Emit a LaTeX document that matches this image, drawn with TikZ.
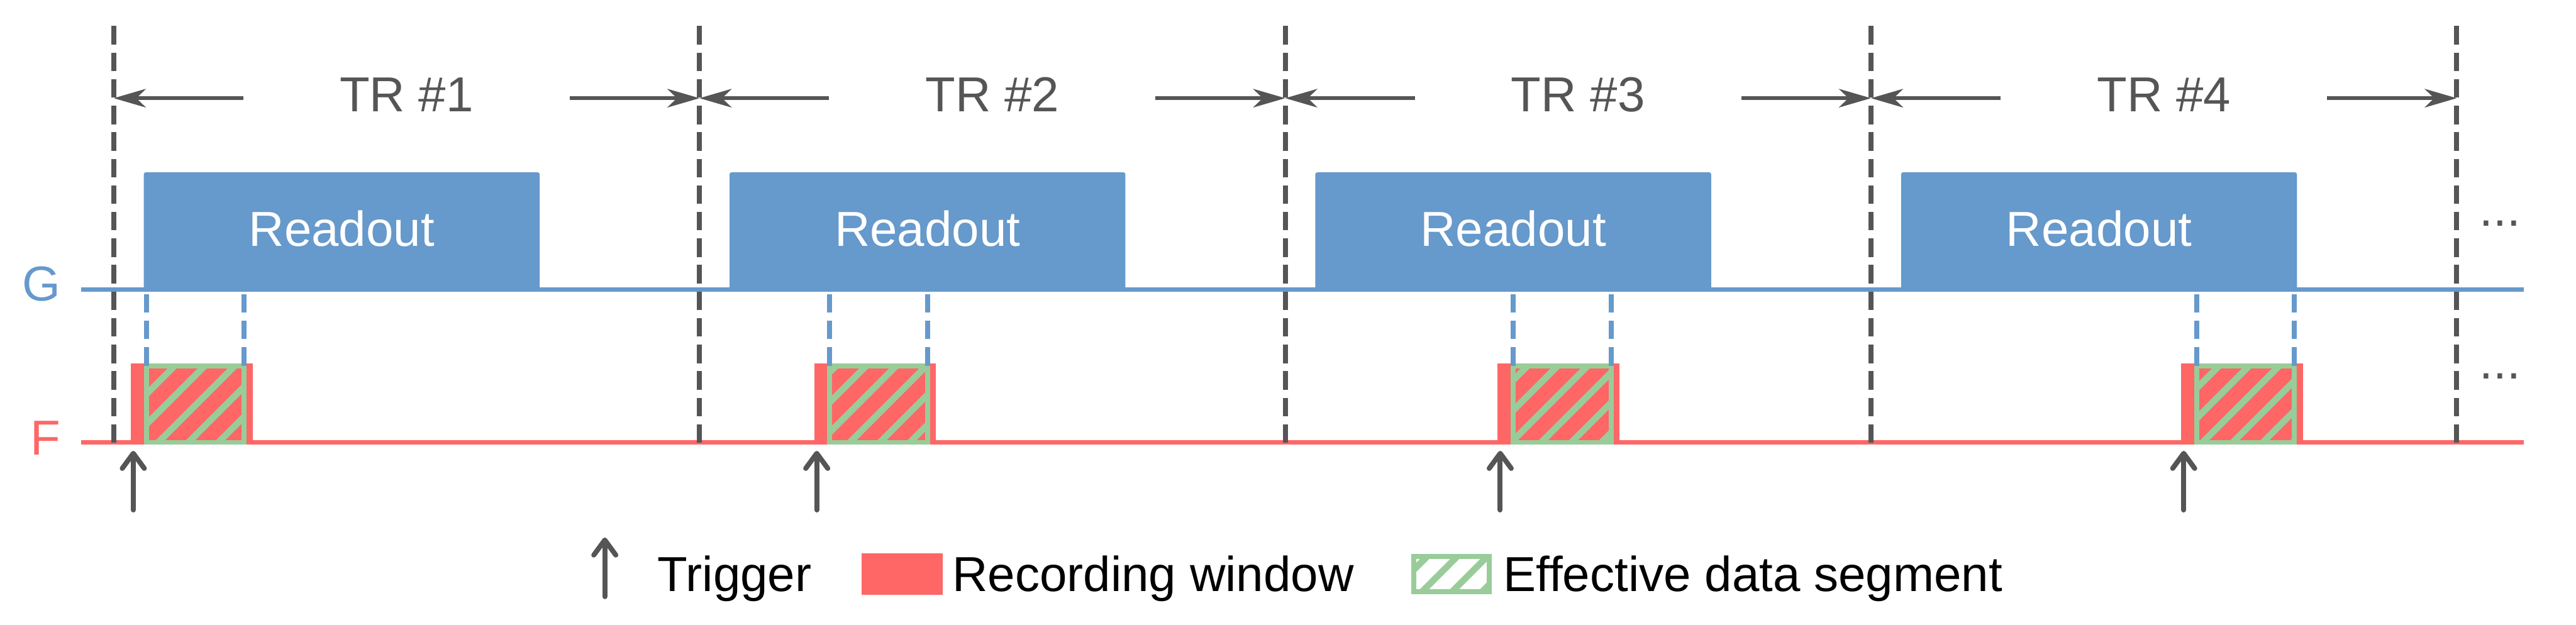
\documentclass[tikz,border=0pt]{standalone}
\usepackage{fontspec}
\setmainfont{Liberation Sans}
\usetikzlibrary{arrows.meta}

\definecolor{gblue}{HTML}{6699CC}
\definecolor{fred}{HTML}{FF6666}
\definecolor{hgreen}{HTML}{99CC99}
\definecolor{dgray}{HTML}{555555}

\tikzset{sig/.style={line width=0.1cm},
    trsep/.style={dgray,line width=0.1cm,dash pattern=on 0.37cm off 0.16cm},
    winsep/.style={gblue,line width=0.1cm,dash pattern=on 0.37cm off 0.16cm},
    readout/.style={fill=gblue,text=white,rounded corners=0.04cm,minimum width=7.9cm,minimum height=2.34cm,
        anchor=south west,text height=0.72cm,text depth=0.12cm,inner sep=0pt,outer sep=0pt},
    trlabel/.style={text=dgray,minimum width=6.5cm,text height=0.72cm,text depth=0.18cm,inner sep=0pt},
    trarrow/.style={dgray,line width=0.07cm,-{Stealth[length=0.64cm,width=0.37cm,inset=0.19cm]}},
    trigarrow/.style={dgray,line width=0.1cm,line cap=round,-{Straight Barb[length=0.3cm,width=0.44cm,round]}},
    recwin/.style={fill=fred,minimum width=2.43cm,minimum height=1.63cm,anchor=south west,inner sep=0pt,outer sep=0pt},
    segbox/.style={draw=hgreen,line width=0.1cm,minimum width=1.95cm,minimum height=1.53cm,anchor=south west,inner sep=0pt,outer sep=0pt},
    hatch/.style={hgreen,line width=0.13cm},
    txt/.style={inner sep=0pt,anchor=base west}}

\begin{document}
\begin{tikzpicture}[every node/.style={font=\fontsize{27.9}{33}\selectfont}]
    \useasboundingbox (0,0) rectangle (51.41,12.47);
    % channels
    \node[txt,anchor=base east,text=gblue] (G) at (1.21,6.46) {G};
    \node[txt,anchor=base east,text=fred] (F) at (1.21,3.39) {F};
    \coordinate (gs) at (1.62,6.69); \coordinate (ge) at (50.37,6.69);
    \coordinate (fs) at (1.62,3.64); \coordinate (fe) at (50.37,3.64);
    \draw[sig,gblue] (gs) -- (ge);
    \draw[sig,fred] (fs) -- (fe);
    \foreach \k in {0,...,3}{
        \pgfmathsetmacro\g{2.87+13.64*\k}
        \node[readout] (ro\k) at ({2.87+11.69*\k},6.69) {Readout};
        \node[recwin] (rw\k) at ({\g-0.26},3.59) {};
        \coordinate (tb\k) at ({\g-0.21},2.29);
        \coordinate (tt\k) at ({\g-0.21},3.47);
        \draw[trigarrow] (tb\k) -- (tt\k);
    }
    % legend
    \coordinate (lb) at (12.07,0.56); \coordinate (lt) at (12.07,1.74);
    \draw[trigarrow] (lb) -- (lt);
    \node[txt] (ltrig) at (13.12,0.66) {Trigger};
    \node[recwin,minimum width=1.63cm,minimum height=0.82cm] (lrec) at (17.19,0.60) {};
    \node[txt] (lrectxt) at (19.00,0.66) {Recording window};
    \node[txt] (lsegtxt) at (30.00,0.66) {Effective data segment};
    % hatching
    \begin{scope}
        \clip \foreach \k in {0,...,3}{({2.92+13.64*\k},3.64) rectangle ++(1.95,1.53)}
            (28.22,0.66) rectangle ++(1.50,0.70);
        \foreach \n in {-9,...,86}
            \draw[hatch] ({0.62+0.6*\n},0.5) -- ++(4.8,4.8);
    \end{scope}
    \foreach \k in {0,...,3}{
        \node[segbox] (seg\k) at ({2.92+13.64*\k},3.64) {};
        \draw[winsep] (seg\k.north west) -- ++(0,1.43);
        \draw[winsep] (seg\k.north east) -- ++(0,1.43);
    }
    \node[segbox,minimum width=1.50cm,minimum height=0.70cm] (lseg) at (28.22,0.66) {};
    % TR periods
    \foreach \k in {0,...,4}{
        \coordinate (d\k) at ({2.27+11.69*\k},11.95);
        \draw[trsep] (d\k) -- (d\k |- fs);
    }
    \foreach \k [evaluate=\k as \kk using int(\k+1)] in {0,...,3}{
        \node[trlabel] (tr\kk) at ({8.115+11.69*\k},10.51) {TR \#\kk};
        \draw[trarrow] (tr\kk.west) -- (tr\kk.west -| d\k);
        \draw[trarrow] (tr\kk.east) -- (tr\kk.east -| d\kk);
    }
    \node[txt,text=dgray] (gdots) at (49.48,7.96) {...};
    \node[txt,text=dgray] (fdots) at (49.48,4.91) {...};
\end{tikzpicture}
\end{document}
